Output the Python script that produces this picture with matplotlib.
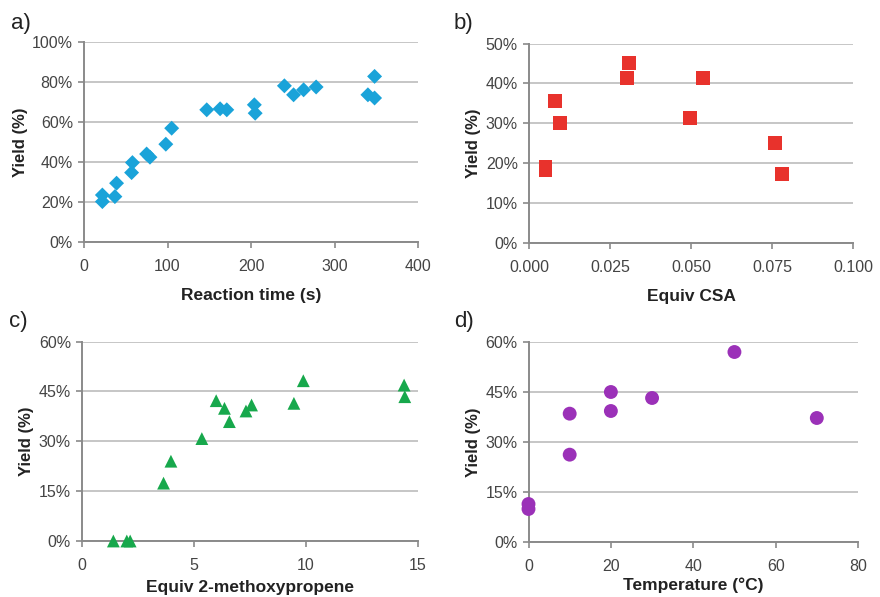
import matplotlib
matplotlib.use("Agg")
import matplotlib.pyplot as plt
from matplotlib.ticker import FuncFormatter

plt.rcParams['font.family'] = ['Liberation Sans', 'DejaVu Sans']

# Panel a: reaction time
a_x = [22, 22, 37, 39, 57, 58, 75, 79, 98, 105, 147, 163, 171, 204, 205, 240, 251, 263, 278, 340, 348, 348]
a_y = [23.5, 20.2, 22.7, 29.4, 34.7, 39.7, 44.0, 42.4, 48.9, 56.9, 66.1, 66.6, 66.1, 68.6, 64.4, 78.1, 73.6, 76.1, 77.5, 73.6, 82.8, 72.0]
# Panel b: equiv CSA
b_x = [0.0051, 0.0051, 0.0081, 0.0097, 0.0302, 0.0309, 0.0498, 0.0537, 0.0760, 0.0782]
b_y = [19.1, 18.3, 35.5, 30.0, 41.3, 45.2, 31.3, 41.3, 25.0, 17.3]
# Panel c: equiv 2-methoxypropene
c_x = [1.4, 2.0, 2.15, 3.64, 3.97, 5.35, 5.99, 6.36, 6.58, 7.32, 7.57, 9.46, 9.88, 14.38, 14.41]
c_y = [0, 0, 0, 17.4, 24.0, 30.8, 42.2, 39.9, 35.9, 39.1, 40.9, 41.4, 48.2, 46.9, 43.4]
# Panel d: temperature
d_x = [0, 0, 10, 10, 20, 20, 30, 50, 70]
d_y = [11.4, 9.9, 38.5, 26.2, 45.0, 39.3, 43.2, 57.0, 37.2]

W, H = 880, 597
fig = plt.figure(figsize=(W / 100, H / 100), dpi=100)

def add_ax(l, r, t, b):
    return fig.add_axes([l / W, 1 - b / H, (r - l) / W, (b - t) / H])

grid_c = '#c6c6c6'
spine_c = '#8a8a8a'
tick_c = '#444444'

def style(ax, xlim, xticks, xfmt, ylim, yticks, xlabel, panel, plx, xlpad):
    ax.set_xlim(*xlim)
    ax.set_ylim(*ylim)
    ax.set_xticks(xticks)
    ax.set_xticklabels([xfmt(v) for v in xticks])
    ax.set_yticks(yticks)
    ax.yaxis.set_major_formatter(FuncFormatter(lambda v, p: f"{v:.0f}%"))
    for s in ['top', 'right']:
        ax.spines[s].set_visible(False)
    for s in ['left', 'bottom']:
        ax.spines[s].set_color(spine_c)
        ax.spines[s].set_linewidth(1.4)
    ax.yaxis.grid(True, color=grid_c, linewidth=1.4)
    ax.set_axisbelow(True)
    ax.tick_params(axis='both', colors=spine_c, width=1.2, length=4, labelsize=11.5, labelcolor=tick_c)
    ax.tick_params(axis='x', pad=8)
    ax.tick_params(axis='y', pad=4)
    ax.set_xlabel(xlabel, fontsize=12.5, fontweight='bold', color='#222222', labelpad=xlpad)
    ax.set_ylabel('Yield (%)', fontsize=12, fontweight='bold', color='#222222', labelpad=3)
    fig.text(plx[0] / W, 1 - plx[1] / H, panel, fontsize=16, color='#222222', ha='left', va='center')

ax1 = add_ax(84, 418, 42, 242)
ax1.scatter(a_x, a_y, marker='D', s=58, color='#1aa3d9', edgecolors='none', zorder=3, clip_on=False)
style(ax1, (0, 400), [0, 100, 200, 300, 400], lambda v: f"{v:.0f}", (0, 100), [0, 20, 40, 60, 80, 100],
      'Reaction time (s)', 'a)', (11, 24), 10)

ax2 = add_ax(529, 853, 43.5, 243)
ax2.scatter(b_x, b_y, marker='s', s=100, color='#e8322c', edgecolors='none', zorder=3, clip_on=False)
style(ax2, (0, 0.1), [0, 0.025, 0.05, 0.075, 0.1], lambda v: f"{v:.3f}", (0, 50), [0, 10, 20, 30, 40, 50],
      'Equiv CSA', 'b)', (454, 24), 10)

ax3 = add_ax(82, 418, 341.5, 541)
ax3.scatter(c_x, c_y, marker='^', s=85, color='#17a84c', edgecolors='none', zorder=3, clip_on=False)
style(ax3, (0, 15), [0, 5, 10, 15], lambda v: f"{v:.0f}", (0, 60), [0, 15, 30, 45, 60],
      'Equiv 2-methoxypropene', 'c)', (9, 322), 5)

ax4 = add_ax(528.5, 858, 342, 542)
ax4.scatter(d_x, d_y, marker='o', s=100, color='#9b31b8', edgecolors='none', zorder=3, clip_on=False)
style(ax4, (0, 80), [0, 20, 40, 60, 80], lambda v: f"{v:.0f}", (0, 60), [0, 15, 30, 45, 60],
      'Temperature (°C)', 'd)', (454, 322), 3)

fig.savefig('out.png', dpi=100)
